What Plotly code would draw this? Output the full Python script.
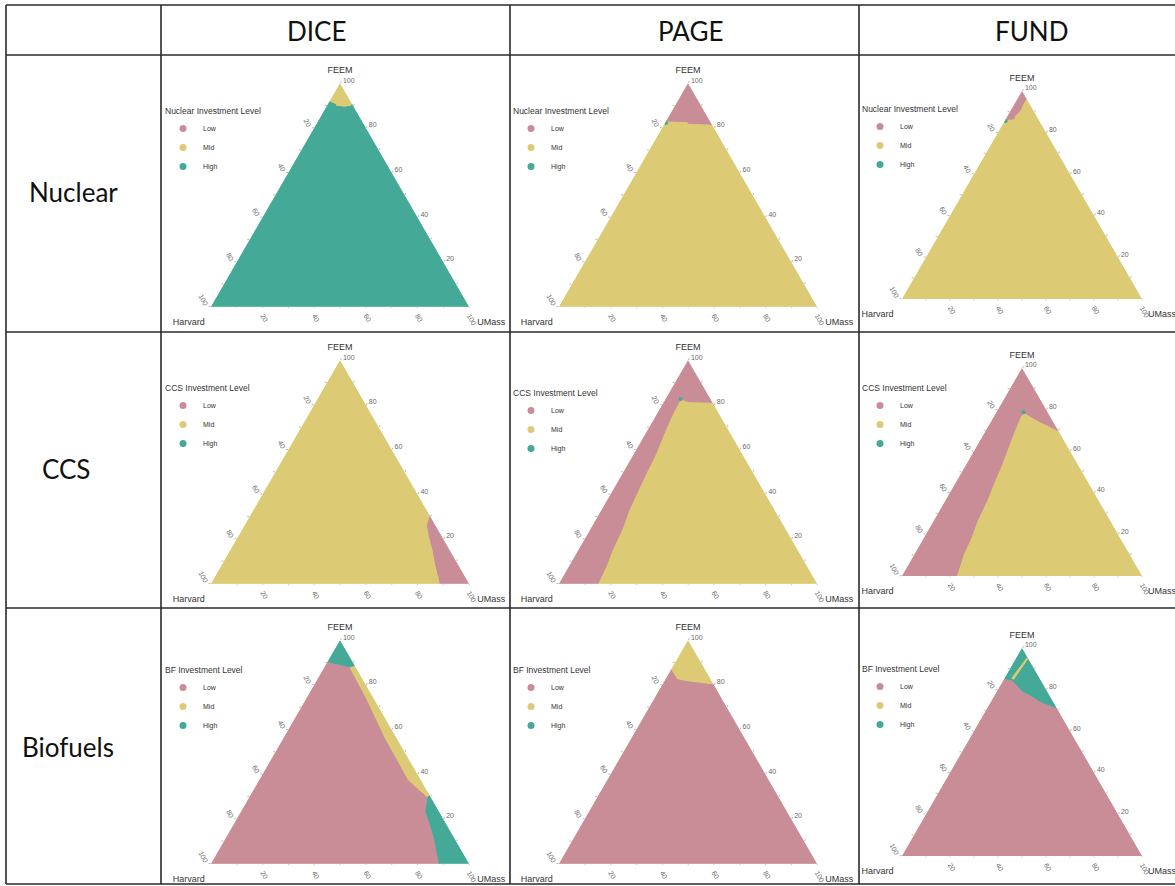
import plotly.graph_objects as go

FIG_W, FIG_H = 1175, 886

models = ["DICE", "PAGE", "FUND"]
technologies = ["Nuclear", "CCS", "Biofuels"]
legend_titles = ["Nuclear Investment Level", "CCS Investment Level", "BF Investment Level"]
levels = ["Low", "Mid", "High"]
level_colors = ["#C98D98", "#DCCA74", "#45A998"]

# tick positions (%) and the label printed at each one along its edge
tick_values = [0, 10, 20, 30, 40, 50, 60, 70, 80, 90]
tick_labels = ["100", "", "80", "", "60", "", "40", "", "20", ""]

# vertices as (FEEM, Harvard, UMass) shares in percent
FEEM_CORNER = (100, 0, 0)
HARVARD_CORNER = (0, 100, 0)
UMASS_CORNER = (0, 0, 100)

# ---- Nuclear: boundaries between investment levels ----
dice_nuclear_mid_high = [(91.7, 8.3, 0), (90.5, 6.4, 3.1), (89.7, 6.9, 3.4), (89.3, 3.7, 7.0),
                         (89.7, 0.9, 9.4), (90.5, 0, 9.5)]
page_nuclear_low_mid = [(82.7, 17.3, 0), (82.4, 9.1, 8.5), (81.7, 9.4, 8.9), (81.2, 0, 18.8)]
page_nuclear_high_points = [(82.2, 17.4, 0.4)]
fund_nuclear_low_mid = [(85.8, 14.2, 0), (86.2, 9.9, 3.9), (88.0, 8.7, 3.3), (89.4, 6.6, 4.0),
                        (90.9, 4.8, 4.3), (93.1, 2.9, 4.0), (96.0, 0, 4.0)]
fund_nuclear_high_points = [(85.6, 14.0, 0.4)]

# ---- CCS ----
dice_ccs_mid_low = [(30.7, 0, 69.3), (26.2, 3.4, 70.4), (21.7, 5.0, 73.3), (15.8, 6.6, 77.6),
                    (8.3, 9.1, 82.6), (0, 11.5, 88.5)]
page_ccs_low_mid = [(0, 85.0, 15.0), (7.5, 78.1, 14.4), (15.1, 71.8, 13.1), (24.3, 63.4, 12.3),
                    (32.7, 56.6, 10.7), (42.7, 47.6, 9.7), (50.3, 40.7, 9.0), (57.9, 33.6, 8.5),
                    (67.1, 25.8, 7.1), (75.5, 18.4, 6.1), (82.7, 11.5, 5.8), (81.5, 8.9, 9.6),
                    (81.2, 0, 18.8)]
page_ccs_high_points = [(82.7, 11.5, 5.8)]
fund_ccs_low_mid = [(0, 77.3, 22.7), (10.4, 69.2, 20.4), (17.7, 62.6, 19.7), (26.5, 55.4, 18.1),
                    (36.7, 46.1, 17.2), (45.5, 38.7, 15.8), (52.8, 32.3, 14.9), (65.9, 21.5, 12.6),
                    (76.2, 12.7, 11.1), (78.8, 10.0, 11.2), (74.4, 5.7, 19.9), (72.9, 3.6, 23.5),
                    (70.0, 0, 30.0)]
fund_ccs_high_points = [(78.8, 10.0, 11.2)]

# ---- Biofuels ----
dice_bf_cap_low = [(90.0, 10.0, 0), (88.9, 6.2, 4.9), (87.6, 2.6, 9.8)]
dice_bf_cap_mid = [(87.6, 2.6, 9.8), (88.4, 0, 11.6)]
dice_bf_low_mid = [(87.6, 2.6, 9.8), (74.2, 3.1, 22.7), (56.5, 4.7, 38.8), (37.4, 5.1, 57.5),
                   (29.5, 1.5, 69.0)]
dice_bf_mid_high = [(29.5, 1.5, 69.0), (30.5, 0, 69.5)]
dice_bf_low_high = [(29.5, 1.5, 69.0), (23.5, 5.4, 71.1), (19.1, 6.3, 74.6), (11.8, 8.0, 80.2),
                    (0, 11.9, 88.1)]
page_bf_mid_low = [(86.8, 13.2, 0), (82.4, 13.0, 4.6), (81.5, 9.9, 8.6), (80.0, 0, 20.0)]
fund_bf_high_low = [(85.0, 15.0, 0), (84.1, 12.0, 3.9), (81.6, 11.2, 7.2), (78.9, 10.5, 10.6),
                    (76.8, 8.0, 15.2), (73.8, 5.3, 20.9), (70.6, 0, 29.4)]
fund_bf_mid_streak = [(85.5, 11.5, 3.0), (95.5, 0, 4.5), (95.0, 0, 5.0), (85.0, 11.0, 4.0)]

LOW, MID, HIGH = 0, 1, 2

# regions per (technology row, model column): list of (level, polygon), plus isolated points
panels = {
    (0, 0): dict(regions=[(MID, [FEEM_CORNER] + dice_nuclear_mid_high),
                          (HIGH, dice_nuclear_mid_high + [UMASS_CORNER, HARVARD_CORNER])],
                 points=[]),
    (0, 1): dict(regions=[(LOW, [FEEM_CORNER] + page_nuclear_low_mid),
                          (MID, page_nuclear_low_mid + [UMASS_CORNER, HARVARD_CORNER])],
                 points=page_nuclear_high_points),
    (0, 2): dict(regions=[(LOW, [FEEM_CORNER] + fund_nuclear_low_mid),
                          (MID, fund_nuclear_low_mid + [UMASS_CORNER, HARVARD_CORNER])],
                 points=fund_nuclear_high_points),
    (1, 0): dict(regions=[(LOW, dice_ccs_mid_low + [UMASS_CORNER]),
                          (MID, dice_ccs_mid_low + [HARVARD_CORNER, FEEM_CORNER])],
                 points=[]),
    (1, 1): dict(regions=[(MID, page_ccs_low_mid + [UMASS_CORNER]),
                          (LOW, page_ccs_low_mid + [FEEM_CORNER, HARVARD_CORNER])],
                 points=page_ccs_high_points),
    (1, 2): dict(regions=[(MID, fund_ccs_low_mid + [UMASS_CORNER]),
                          (LOW, fund_ccs_low_mid + [FEEM_CORNER, HARVARD_CORNER])],
                 points=fund_ccs_high_points),
    (2, 0): dict(regions=[(HIGH, [FEEM_CORNER] + dice_bf_cap_low + dice_bf_cap_mid[1:]),
                          (MID, dice_bf_cap_mid + dice_bf_mid_high[::-1] + dice_bf_low_mid[::-1][1:-1]),
                          (HIGH, dice_bf_mid_high + [UMASS_CORNER] + dice_bf_low_high[::-1][:-1]),
                          (LOW, dice_bf_cap_low + dice_bf_low_mid[1:] + dice_bf_low_high[1:] + [HARVARD_CORNER])],
                 points=[]),
    (2, 1): dict(regions=[(MID, [FEEM_CORNER] + page_bf_mid_low),
                          (LOW, page_bf_mid_low + [UMASS_CORNER, HARVARD_CORNER])],
                 points=[]),
    (2, 2): dict(regions=[(HIGH, [FEEM_CORNER] + fund_bf_high_low),
                          (LOW, fund_bf_high_low + [UMASS_CORNER, HARVARD_CORNER]),
                          (MID, fund_bf_mid_streak)],
                 points=[]),
}

# page layout in pixels
col_lines = [6, 161, 510, 859]
row_lines = [5, 55, 332, 608, 884]
col_centers = [340, 688, 1022]
row_centers = [195, 472, 752]
col_sides = [258, 258, 240]
legend_left = [163, 511, 860]
legend_top = [[103, 103, 101], [380, 385, 380], [662, 662, 661]]
header_x = [316, 690, 1031]
row_label_x = [27, 40, 20]
row_label_y = [192, 469, 747]
# em/en-space padding (kept from being trimmed by a zero-width space) that nudges the
# corner titles sideways, away from the vertex tick labels
EM, EN, ZW = "\u2003", "\u2002", "\u200b"
harvard_pad = [EM * 2 + EN, EM * 2 + EN, EM * 3]
umass_pad = [EM * 2 + EN, EM * 2 + EN, EM * 2]

px_x = lambda v: v / FIG_W
px_y = lambda v: 1 - v / FIG_H

fig = go.Figure()
layout_extra = {}

axis_font = dict(family="Liberation Sans, Arial, sans-serif", size=7, color="#6a6a6a")
title_font = dict(family="Liberation Sans, Arial, sans-serif", size=9, color="#333333")


def make_axis(title, angle, ticklen=2):
    return dict(title=dict(text=title, font=title_font), showgrid=False, showline=False,
                ticks="outside", ticklen=ticklen, tickcolor="#b8b8b8", tickwidth=1,
                tickmode="array", tickvals=tick_values, ticktext=tick_labels,
                tickangle=angle, tickfont=axis_font, min=0)


for r in range(3):
    for m in range(3):
        k = r * 3 + m + 1
        sub = "ternary" if k == 1 else f"ternary{k}"
        leg = "legend" if k == 1 else f"legend{k}"
        side = col_sides[m]
        h = side * 3 ** 0.5 / 2
        cx, cy = col_centers[m], row_centers[r]
        layout_extra[sub] = dict(
            sum=100,
            bgcolor="white",
            domain=dict(x=[px_x(cx - side / 2), px_x(cx + side / 2)],
                        y=[px_y(cy + h / 2), px_y(cy - h / 2)]),
            aaxis=make_axis("FEEM", 60),
            baxis=make_axis("Harvard" + harvard_pad[m] + ZW, 60, ticklen=1),
            caxis=make_axis(ZW + umass_pad[m] + "UMass", 0),
        )
        layout_extra[leg] = dict(
            title=dict(text=legend_titles[r],
                       font=dict(family="Liberation Sans, Arial, sans-serif", size=8.5, color="#333333")),
            font=dict(family="Liberation Sans, Arial, sans-serif", size=7, color="#333333"),
            x=px_x(legend_left[m]), y=px_y(legend_top[r][m]),
            xanchor="left", yanchor="top", bgcolor="rgba(0,0,0,0)",
            itemwidth=30, tracegroupgap=0,
        )

        panel = panels[(r, m)]
        for lvl, poly in panel["regions"]:
            pts = poly + [poly[0]]
            col = level_colors[lvl]
            fig.add_trace(go.Scatterternary(
                a=[p[0] for p in pts], b=[p[1] for p in pts], c=[p[2] for p in pts],
                mode="lines", fill="toself", fillcolor=col,
                line=dict(color=col, width=1), hoverinfo="skip",
                showlegend=False, subplot=sub))
        if panel["points"]:
            fig.add_trace(go.Scatterternary(
                a=[p[0] for p in panel["points"]], b=[p[1] for p in panel["points"]],
                c=[p[2] for p in panel["points"]], mode="markers",
                marker=dict(color=level_colors[HIGH], size=4), hoverinfo="skip",
                showlegend=False, subplot=sub))
        for lvl, name in enumerate(levels):
            fig.add_trace(go.Scatterternary(
                a=[None], b=[None], c=[None], mode="markers", name=name,
                marker=dict(color=level_colors[lvl], size=7),
                legend=leg, subplot=sub, showlegend=True))

# table grid
shapes = []
for x in col_lines:
    shapes.append(dict(type="line", xref="paper", yref="paper",
                       x0=px_x(x), x1=px_x(x), y0=px_y(row_lines[0]), y1=px_y(row_lines[-1]),
                       line=dict(color="#2a2a2a", width=1.6)))
for y in row_lines:
    shapes.append(dict(type="line", xref="paper", yref="paper",
                       x0=px_x(col_lines[0]), x1=1.0, y0=px_y(y), y1=px_y(y),
                       line=dict(color="#2a2a2a", width=1.6)))

annotations = []
cell_font = dict(family="Lato, Open Sans, sans-serif", size=26, color="#111111")
for m, name in enumerate(models):
    annotations.append(dict(text=name, x=px_x(header_x[m]), y=px_y(31), xref="paper", yref="paper",
                            showarrow=False, xanchor="center", yanchor="middle", font=cell_font))
for r, name in enumerate(technologies):
    annotations.append(dict(text=name, x=px_x(row_label_x[r]), y=px_y(row_label_y[r]),
                            xref="paper", yref="paper", showarrow=False,
                            xanchor="left", yanchor="middle", font=cell_font))

fig.update_layout(
    width=FIG_W, height=FIG_H, autosize=False,
    margin=dict(l=0, r=0, t=0, b=0),
    paper_bgcolor="white", plot_bgcolor="white",
    shapes=shapes, annotations=annotations,
    **layout_extra,
)

fig.write_html("out.html")
